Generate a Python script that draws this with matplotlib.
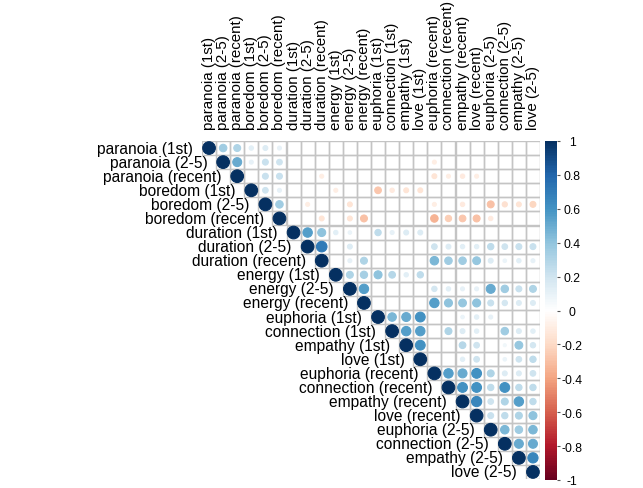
import numpy as np
import matplotlib
matplotlib.use("Agg")
import matplotlib.pyplot as plt
from matplotlib.patches import Circle, Rectangle
from matplotlib.colors import LinearSegmentedColormap, Normalize
from matplotlib.cm import ScalarMappable

plt.rcParams['font.family'] = ['Liberation Sans', 'DejaVu Sans']

labels = ["paranoia (1st)", "paranoia (2-5)", "paranoia (recent)",
          "boredom (1st)", "boredom (2-5)", "boredom (recent)",
          "duration (1st)", "duration (2-5)", "duration (recent)",
          "energy (1st)", "energy (2-5)", "energy (recent)",
          "euphoria (1st)", "connection (1st)", "empathy (1st)", "love (1st)",
          "euphoria (recent)", "connection (recent)", "empathy (recent)", "love (recent)",
          "euphoria (2-5)", "connection (2-5)", "empathy (2-5)", "love (2-5)"]

N = None
# upper-triangle correlations, each row lists columns i+1 .. 23 (None = blank / not significant)
r_paranoia_1st     = [0.35, 0.30, 0.12, 0.15, 0.10, N, N, N, N, N, N, N, N, N, N, N, N, N, N, N, N, N, N]
r_paranoia_25      = [0.50, 0.10, 0.22, 0.20, N, N, N, N, N, N, N, N, N, N, -0.10, N, N, N, N, N, N, N]
r_paranoia_recent  = [N, 0.22, 0.22, N, N, -0.10, N, N, N, N, N, N, N, -0.15, -0.10, -0.12, -0.10, N, N, N, N]
r_boredom_1st      = [0.20, 0.10, N, N, N, -0.10, N, N, -0.28, -0.12, -0.15, -0.15, N, N, N, N, N, N, N, N]
r_boredom_25       = [0.35, N, -0.10, N, N, -0.15, N, N, N, N, N, -0.10, N, -0.12, N, -0.30, -0.17, -0.15, -0.22]
r_boredom_recent   = [N, N, -0.15, N, -0.15, -0.30, N, N, N, N, -0.35, -0.25, -0.28, -0.30, -0.12, N, N, N]
r_duration_1st     = [0.55, 0.40, 0.12, 0.08, N, 0.25, 0.10, 0.15, 0.15, N, N, N, N, N, N, N, N]
r_duration_25      = [0.70, N, 0.15, N, N, N, N, N, 0.20, 0.15, 0.12, 0.12, 0.25, 0.20, 0.22, 0.22]
r_duration_recent  = [N, 0.10, 0.30, N, N, N, N, 0.45, 0.35, 0.35, 0.38, 0.15, 0.08, 0.12, 0.10]
r_energy_1st       = [0.30, 0.33, 0.40, 0.28, 0.12, 0.25, N, N, N, N, N, N, N, N]
r_energy_25        = [0.55, N, N, N, N, 0.18, 0.12, 0.10, 0.10, 0.50, 0.35, 0.22, 0.30]
r_energy_recent    = [N, N, N, N, 0.55, 0.40, 0.38, 0.40, 0.22, 0.18, 0.15, 0.15]
r_euphoria_1st     = [0.45, 0.50, 0.60, N, N, 0.08, 0.12, 0.10, N, N, N]
r_connection_1st   = [0.55, 0.55, N, 0.30, 0.15, 0.12, N, 0.35, 0.15, 0.12]
r_empathy_1st      = [0.60, N, N, 0.28, 0.20, N, 0.06, 0.38, 0.18]
r_love_1st         = [N, N, 0.12, 0.20, N, 0.08, 0.20, 0.25]
r_euphoria_recent  = [0.55, 0.50, 0.60, 0.30, 0.15, 0.15, 0.20]
r_connection_recent = [0.60, 0.60, 0.25, 0.60, 0.25, 0.25]
r_empathy_recent   = [0.65, 0.20, 0.30, 0.55, 0.25]
r_love_recent      = [0.22, 0.25, 0.30, 0.40]
r_euphoria_25      = [0.45, 0.35, 0.45]
r_connection_25    = [0.50, 0.50]
r_empathy_25       = [0.65]

upper_rows = [r_paranoia_1st, r_paranoia_25, r_paranoia_recent, r_boredom_1st,
              r_boredom_25, r_boredom_recent, r_duration_1st, r_duration_25,
              r_duration_recent, r_energy_1st, r_energy_25, r_energy_recent,
              r_euphoria_1st, r_connection_1st, r_empathy_1st, r_love_1st,
              r_euphoria_recent, r_connection_recent, r_empathy_recent,
              r_love_recent, r_euphoria_25, r_connection_25, r_empathy_25]

n = len(labels)
M = np.full((n, n), np.nan)
for i in range(n):
    M[i, i] = 1.0
for i, row in enumerate(upper_rows):
    for k, v in enumerate(row):
        if v is not None:
            M[i, i + 1 + k] = v

palette = ["#67001F", "#B2182B", "#D6604D", "#F4A582", "#FDDBC7", "#FFFFFF",
           "#D1E5F0", "#92C5DE", "#4393C3", "#2166AC", "#053061"]
cmap = LinearSegmentedColormap.from_list("corrRdBu", palette, N=200)
norm = Normalize(-1, 1)

W, H = 643, 489
fig = plt.figure(figsize=(W / 100, H / 100), dpi=100)
gx, gy, gs = 202, 142, 338
ax = fig.add_axes([gx / W, (H - gy - gs) / H, gs / W, gs / H])
ax.set_xlim(0, n)
ax.set_ylim(n, 0)
ax.axis('off')

for i in range(n):
    for j in range(i, n):
        ax.add_patch(Rectangle((j, i), 1, 1, fill=False, edgecolor='#C4C4C4',
                               lw=1.0, zorder=1))
for i in range(n):
    for j in range(i, n):
        v = M[i, j]
        if np.isnan(v):
            continue
        c = cmap(norm(v))
        ax.add_patch(Circle((j + 0.5, i + 0.5), 0.45 * np.sqrt(abs(v)),
                            facecolor=c, edgecolor=c, lw=0.75, zorder=2))

for i, lab in enumerate(labels):
    ax.text(i - 0.62, i + 0.5, lab, ha='right', va='center', fontsize=11.2,
            color='black', clip_on=False)
    ax.text(i + 0.5, -0.85, lab, ha='center', va='bottom', rotation=90,
            fontsize=10.9, color='black', clip_on=False)

cax = fig.add_axes([545 / W, (H - 481) / H, 12 / W, 339 / H])
sm = ScalarMappable(norm=norm, cmap=cmap)
cb = fig.colorbar(sm, cax=cax)
cb.outline.set_visible(False)
ticks = np.round(np.arange(-1, 1.01, 0.2), 1)
tick_labels = ["-1", "-0.8", "-0.6", "-0.4", "-0.2", "0", "0.2", "0.4", "0.6", "0.8", "1"]
cb.set_ticks(ticks)
cb.set_ticklabels(tick_labels)
cax.tick_params(axis='y', length=2.2, width=0.8, color='#555555', pad=8.6,
                labelsize=8.8)
for t in cax.get_yticklabels():
    t.set_horizontalalignment('center')

fig.savefig("out.png", dpi=100)
